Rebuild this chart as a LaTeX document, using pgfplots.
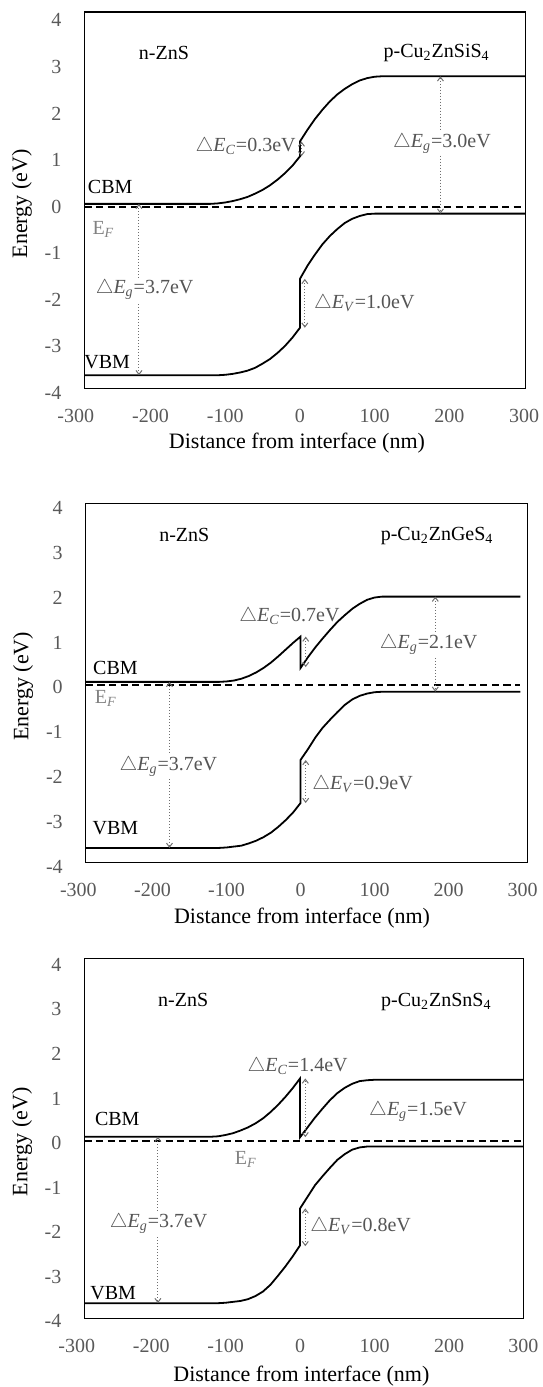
\documentclass[border=0pt]{standalone}
\usepackage{pgfplots}
\pgfplotsset{compat=1.18}
\usepackage{fontspec}
\setmainfont{Liberation Serif}
\usetikzlibrary{arrows.meta}

\definecolor{tickgray}{RGB}{89,89,89}
\definecolor{lblgray}{RGB}{85,85,85}
\definecolor{efgray}{RGB}{130,130,130}
\definecolor{arrgray}{RGB}{110,110,110}

\newcommand{\dE}[2]{$\bigtriangleup$\textit{E}\textsubscript{\textit{#1}}=#2eV}

\pgfplotsset{
  panel/.style={
    scale only axis, anchor=north west, clip=false,
    axis line style={black, line width=0.6pt},
    major tick length=0pt,
    tick label style={font=\fontsize{10}{12}\selectfont, text=tickgray},
    xticklabel style={yshift=-7pt},
    yticklabel style={xshift=-8pt},
    xtick={-200,-100,...,300}, xticklabels={-200,-100,0,100,200,300},
    ytick={-3,...,4}, yticklabels={-3,-2,-1,0,1,2,3,4},
    label style={font=\fontsize{11}{13}\selectfont},
    ylabel={Energy (eV)}, xlabel={Distance from interface (nm)},
    ylabel style={at={(axis description cs:-0.142,0.49)}, anchor=center},
  },
  band/.style={black, line width=0.9pt, mark=none},
  fermi/.style={black, line width=1pt, dash pattern=on 3.6pt off 2.2pt, mark=none},
  arr/.style={arrgray, densely dotted, line width=0.5pt, mark=none,
    {Straight Barb[length=2pt,width=3pt]}-{Straight Barb[length=2pt,width=3pt]}},
}
\tikzset{
  tk/.style={font=\fontsize{10}{12}\selectfont, text=tickgray},
  lbl/.style={font=\fontsize{10}{12}\selectfont, text=black},
  dl/.style={font=\fontsize{10}{12}\selectfont, text=lblgray},
  ef/.style={font=\fontsize{10}{12}\selectfont, text=efgray},
}

\begin{document}
\begin{tikzpicture}
\useasboundingbox (0,0) rectangle (271pt,693.5pt);

% ---- panel 1: Cu2ZnSiS4
\begin{axis}[panel, at={(42.2pt,687.5pt)}, width=220.5pt, height=188.15pt,
  xmin=-288.5, xmax=301.7, ymin=-3.90, ymax=4.18,
  xlabel style={at={(axis description cs:0.482,-0.145)}, anchor=center}]
\addplot[fermi] coordinates {(-288.5,0) (301.7,0)};
\addplot[band] coordinates {(-288.5,0.06) (-120,0.06) (-110,0.07) (-100,0.09) (-90,0.12) (-80,0.16) (-70,0.21) (-60,0.28) (-50,0.36) (-40,0.46) (-30,0.58) (-20,0.72) (-10,0.88) (0,1.08) (0,1.40) (10,1.65) (20,1.88) (30,2.08) (40,2.26) (50,2.41) (60,2.53) (70,2.63) (80,2.71) (90,2.76) (100,2.79) (110,2.80) (301.7,2.80)};
\addplot[band] coordinates {(-288.5,-3.62) (-120,-3.62) (-110,-3.62) (-100,-3.61) (-90,-3.59) (-80,-3.56) (-70,-3.52) (-60,-3.46) (-50,-3.37) (-40,-3.27) (-30,-3.14) (-20,-2.99) (-10,-2.81) (0,-2.60) (0,-1.55) (10,-1.27) (20,-1.03) (30,-0.81) (40,-0.63) (50,-0.48) (60,-0.35) (70,-0.26) (80,-0.20) (90,-0.16) (100,-0.15) (301.7,-0.15)};
\addplot[arr] coordinates {(-215.5,0.06) (-215.5,-3.62)};
\addplot[arr] coordinates {(188,2.80) (188,-0.15)};
\addplot[arr] coordinates {(2,1.08) (2,1.40)};
\addplot[arr] coordinates {(6.5,-2.60) (6.5,-1.55)};
\node[lbl] at (axis cs:-182,3.30) {n-ZnS};
\node[lbl] at (axis cs:183,3.30) {p-Cu\textsubscript{2}ZnSiS\textsubscript{4}};
\node[lbl] at (axis cs:-254,0.43) {CBM};
\node[ef] at (axis cs:-263,-0.50) {E\textsubscript{\textit{F}}};
\node[lbl] at (axis cs:-258,-3.33) {VBM};
\node[dl, fill=white, inner sep=1pt] at (axis cs:-208,-1.79) {\dE{g}{3.7}};
\node[dl, anchor=east, inner sep=0.5pt] at (axis cs:-4,1.29) {\dE{C}{0.3}};
\node[dl, anchor=west, inner sep=0.5pt] at (axis cs:17,-2.08) {\dE{V}{1.0}};
\node[dl, fill=white, inner sep=1pt] at (axis cs:190,1.36) {\dE{g}{3.0}};
\node[tk, anchor=north, yshift=-7pt] at (axis cs:-300,-3.90) {-300};
\node[tk, anchor=east, xshift=-8pt] at (axis cs:-288.5,-4) {-4};
\end{axis}

% ---- panel 2: Cu2ZnGeS4
\begin{axis}[panel, at={(42.9pt,441.85pt)}, width=220.65pt, height=179.5pt,
  xmin=-290, xmax=306, ymin=-3.90, ymax=4.10,
  xlabel style={at={(axis description cs:0.49,-0.156)}, anchor=center}]
\addplot[fermi] coordinates {(-290,0.05) (297,0.05)};
\addplot[band] coordinates {(-290,0.12) (-110,0.12) (-100,0.13) (-90,0.15) (-80,0.19) (-70,0.25) (-60,0.33) (-50,0.43) (-40,0.55) (-30,0.69) (-20,0.84) (-10,0.99) (0,1.13) (0,0.43) (10,0.67) (20,0.89) (30,1.09) (40,1.28) (50,1.46) (60,1.61) (70,1.75) (80,1.86) (90,1.95) (100,2.00) (110,2.02) (120,2.02) (297,2.02)};
\addplot[band] coordinates {(-290,-3.58) (-110,-3.58) (-100,-3.57) (-90,-3.55) (-80,-3.53) (-70,-3.48) (-60,-3.42) (-50,-3.34) (-40,-3.24) (-30,-3.11) (-20,-2.96) (-10,-2.79) (0,-2.58) (0,-1.62) (10,-1.38) (20,-1.12) (30,-0.90) (40,-0.72) (50,-0.55) (60,-0.39) (70,-0.27) (80,-0.19) (90,-0.14) (100,-0.11) (110,-0.10) (297,-0.10)};
\addplot[arr] coordinates {(-177,0.12) (-177,-3.58)};
\addplot[arr] coordinates {(182,2.02) (182,-0.10)};
\addplot[arr] coordinates {(7,0.45) (7,1.13)};
\addplot[arr] coordinates {(7,-2.58) (7,-1.62)};
\node[lbl] at (axis cs:-157,3.40) {n-ZnS};
\node[lbl] at (axis cs:184.5,3.36) {p-Cu\textsubscript{2}ZnGeS\textsubscript{4}};
\node[lbl] at (axis cs:-250,0.43) {CBM};
\node[ef] at (axis cs:-263,-0.26) {E\textsubscript{\textit{F}}};
\node[lbl] at (axis cs:-250,-3.14) {VBM};
\node[dl, fill=white, inner sep=1pt] at (axis cs:-178.5,-1.76) {\dE{g}{3.7}};
\node[dl] at (axis cs:-15,1.58) {\dE{C}{0.7}};
\node[dl, anchor=west, inner sep=0.5pt] at (axis cs:14,-2.17) {\dE{V}{0.9}};
\node[dl, fill=white, inner sep=1pt] at (axis cs:173,0.95) {\dE{g}{2.1}};
\node[tk, anchor=north, yshift=-7pt] at (axis cs:-300,-3.90) {-300};
\node[tk, anchor=east, xshift=-8pt] at (axis cs:-290,-4) {-4};
\end{axis}

% ---- panel 3: Cu2ZnSnS4
\begin{axis}[panel, at={(42.2pt,214.35pt)}, width=219.6pt, height=180pt,
  xmin=-289.7, xmax=300.2, ymin=-3.94, ymax=4.15,
  xlabel style={at={(axis description cs:0.494,-0.161)}, anchor=center}]
\addplot[fermi] coordinates {(-289.7,0.05) (300.2,0.05)};
\addplot[band] coordinates {(-289.7,0.14) (-120,0.14) (-110,0.15) (-100,0.18) (-90,0.22) (-80,0.28) (-70,0.35) (-60,0.44) (-50,0.55) (-40,0.69) (-30,0.85) (-20,1.03) (-10,1.23) (0,1.45) (0,0.13) (10,0.35) (20,0.57) (30,0.77) (40,0.96) (50,1.12) (60,1.24) (70,1.33) (80,1.39) (90,1.41) (100,1.42) (300.2,1.42)};
\addplot[band] coordinates {(-289.7,-3.60) (-120,-3.60) (-110,-3.60) (-100,-3.59) (-90,-3.57) (-80,-3.55) (-70,-3.51) (-60,-3.44) (-50,-3.34) (-40,-3.19) (-30,-2.99) (-20,-2.78) (-10,-2.55) (0,-2.30) (0,-1.47) (10,-1.21) (20,-0.95) (30,-0.75) (40,-0.56) (50,-0.38) (60,-0.25) (70,-0.15) (80,-0.10) (90,-0.08) (100,-0.08) (300.2,-0.08)};
\addplot[arr] coordinates {(-191,0.14) (-191,-3.60)};
\addplot[arr] coordinates {(7,0.13) (7,1.45)};
\addplot[arr] coordinates {(7,-2.32) (7,-1.47)};
\node[lbl] at (axis cs:-157,3.21) {n-ZnS};
\node[lbl] at (axis cs:183,3.17) {p-Cu\textsubscript{2}ZnSnS\textsubscript{4}};
\node[lbl] at (axis cs:-245.6,0.53) {CBM};
\node[ef] at (axis cs:-73,-0.38) {E\textsubscript{\textit{F}}};
\node[lbl] at (axis cs:-251,-3.38) {VBM};
\node[dl, fill=white, inner sep=1pt] at (axis cs:-190,-1.81) {\dE{g}{3.7}};
\node[dl] at (axis cs:-3.4,1.71) {\dE{C}{1.4}};
\node[dl, anchor=west, inner sep=0.5pt] at (axis cs:12,-1.88) {\dE{V}{0.8}};
\node[dl] at (axis cs:158.4,0.70) {\dE{g}{1.5}};
\node[tk, anchor=north, yshift=-7pt] at (axis cs:-300,-3.94) {-300};
\node[tk, anchor=east, xshift=-8pt] at (axis cs:-289.7,-4) {-4};
\end{axis}
\end{tikzpicture}
\end{document}
